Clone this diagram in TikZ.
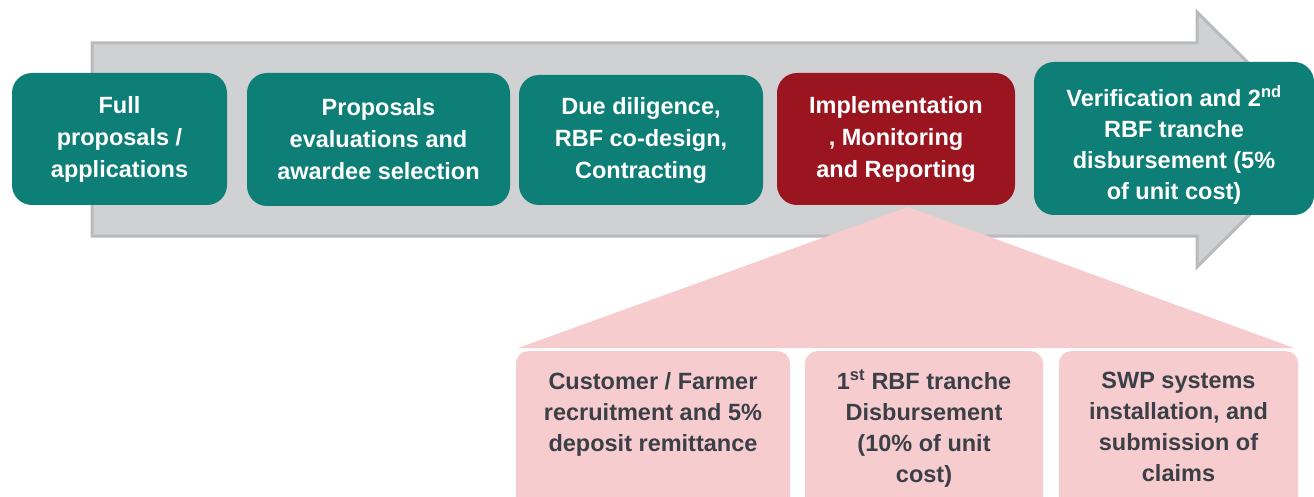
\documentclass[tikz,border=0pt]{standalone}
\usepackage{fontspec}
\setmainfont{Liberation Sans}
\usetikzlibrary{positioning}
\definecolor{stagegreen}{HTML}{0E7F77}
\definecolor{stagered}{HTML}{9B1520}
\definecolor{subpink}{HTML}{F6CCCF}
\definecolor{arrowgray}{HTML}{D0D1D3}
\definecolor{arrowedge}{HTML}{B9BABC}
\definecolor{subtext}{HTML}{3B3F47}

\begin{document}
\begin{tikzpicture}[x=1pt,y=-1pt,
		stage/.style={rectangle,rounded corners=20pt,fill=stagegreen,text=white,
			font=\fontsize{23.5}{32}\selectfont\bfseries,align=center,inner sep=0pt},
		substage/.style={rectangle,rounded corners=12pt,fill=subpink,text=subtext,
			font=\fontsize{23.5}{31}\selectfont\bfseries,inner sep=0pt,anchor=north}]
		\useasboundingbox (0,0) rectangle (1314,497);
		% big grey arrow behind the stages
		\draw[line width=3pt,draw=arrowedge,fill=arrowgray] (92,43) -- (1197,43) -- (1197,12) -- (1325,139.5)
			-- (1197,267) -- (1197,236) -- (92,236) -- cycle;
		% stages
		\node[stage,minimum width=215pt,minimum height=132pt] (full) at (119.5,139) {Full\\proposals /\\applications};
		\node[stage,minimum width=263pt,minimum height=133pt] (evalsel) at (378.5,139.5) {Proposals\\evaluations and\\awardee selection};
		\node[stage,minimum width=244pt,minimum height=130pt] (duedil) at (641,140) {Due diligence,\\RBF co-design,\\Contracting};
		\node[stage,fill=stagered,minimum width=238pt,minimum height=132pt] (implem) at (896,139) {Implementation\\, Monitoring\\and Reporting};
		\node[stage,minimum width=280pt,minimum height=153pt] (verif) at (1174,138.5)
			{\parbox[c][153pt][c]{280pt}{\centering\fontsize{23.5}{31}\selectfont\vspace*{12pt}Verification and 2\textsuperscript{nd}\\RBF tranche\\disbursement (5\%\\of unit cost)}};
		% breakdown of implementation
		\coordinate (apex) at (908,207);
		\fill[subpink] (apex) -- (1294,348) -- (518,348) -- cycle;
		\node[substage] (recruit) at (653,351) {\parbox[t][170pt][t]{274pt}{\centering\vspace*{21pt}Customer / Farmer\\recruitment and 5\%\\deposit remittance}};
		\node[substage] (tranche) at (924,351) {\parbox[t][170pt][t]{238pt}{\centering\vspace*{19pt}1\textsuperscript{st} RBF tranche\\Disbursement\\(10\% of unit\\cost)}};
		\node[substage] (install) at (1178.5,351) {\parbox[t][170pt][t]{239pt}{\centering\vspace*{21pt}SWP systems\\installation, and\\submission of\\claims}};
	\end{tikzpicture}
\end{document}
